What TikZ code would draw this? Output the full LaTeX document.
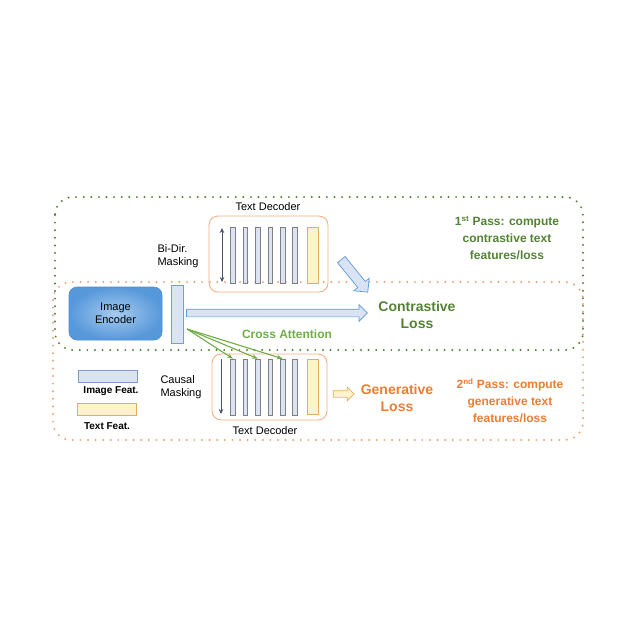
\documentclass[tikz,border=0pt]{standalone}
\usepackage{fontspec}
\setmainfont{Liberation Sans}
\usetikzlibrary{shapes.arrows,arrows.meta}
\definecolor{darkgreen}{HTML}{548235}
\definecolor{lightgreen}{HTML}{70AD47}
\definecolor{passorange}{HTML}{ED7D31}
\definecolor{dotorange}{HTML}{F0A070}
\definecolor{featblue}{HTML}{DAE3F3}
\definecolor{featedge}{HTML}{7F9CC4}
\definecolor{bigarrowedge}{HTML}{5B9BD5}
\definecolor{featyellow}{HTML}{FFF2CC}
\definecolor{yellowedge}{HTML}{E0B060}
\definecolor{decedge}{HTML}{F4B183}
\definecolor{encblue}{HTML}{4A8ED6}
\definecolor{enclight}{HTML}{A6CBEE}
\definecolor{encdark}{HTML}{5798DB}
\definecolor{maskarrow}{HTML}{44546A}

\begin{document}
\begin{tikzpicture}[x=1pt,y=-1pt,
    dots/.style={line width=2.2pt,line cap=round,dash pattern=on 0pt off 7.6pt,rounded corners=18pt},
    decbox/.style={draw=decedge,line width=0.9pt,rounded corners=9pt,minimum width=#1,inner sep=0pt},
    featbar/.style={draw=gray,fill=featblue,line width=0.6pt,minimum width=4.5pt,minimum height=56pt,inner sep=0pt},
    txtbar/.style={draw=yellowedge,fill=featyellow,line width=0.6pt,minimum width=11.5pt,minimum height=#1,inner sep=0pt},
    bigarrow/.style={single arrow,draw=bigarrowedge,fill=featblue,line width=0.7pt,inner sep=3.5pt,single arrow head extend=4.5pt,minimum height=#1},
    lbl/.style={font=\fontsize{11}{12.5}\selectfont,align=left},
    passlbl/.style={font=\fontsize{12}{17}\selectfont\bfseries,align=center},
    losslbl/.style={font=\fontsize{14}{17}\selectfont\bfseries,align=center}]
    \useasboundingbox (0,0) rectangle (640,640);

    % the two passes
    \draw[dots,darkgreen] (55,197) rectangle (583,350);
    \draw[dots,dotorange] (53,282) rectangle (583,440);

    % image encoder and image feature
    \node[draw=encblue,line width=0.6pt,rounded corners=8pt,inner color=enclight,outer color=encdark,
        minimum width=93pt,minimum height=53pt,font=\fontsize{11}{13}\selectfont,align=center] (enc) at (115.5,313.5) {Image\\Encoder};
    \node[draw=featedge,fill=featblue,line width=0.7pt,minimum width=12pt,minimum height=58pt,inner sep=0pt] (imgfeat) at (177,314) {};

    % first pass decoder
    \node[decbox=119pt,minimum height=76pt] (dec1) at (268.5,254) {};
    \node[font=\fontsize{11}{13}\selectfont] (dec1lbl) at (268,207) {Text Decoder};
    \foreach \i in {0,...,5}
        \node[featbar] (t\i) at (233+12.4*\i,255) {};
    \node[txtbar=56pt] (ttxt) at (313,255) {};
    \coordinate (bd1) at (222,228);
    \coordinate (bd2) at (222,282);
    \draw[{Stealth[length=5pt,width=4.5pt]}-{Stealth[length=5pt,width=4.5pt]},maskarrow,line width=0.9pt] (bd1)--(bd2);
    \node[lbl] (bidir) at (178,256) {Bi-Dir.\\Masking};

    % second pass decoder
    \node[decbox=115pt,minimum height=66pt] (dec2) at (269.5,387) {};
    \node[font=\fontsize{11}{13}\selectfont] (dec2lbl) at (265,431) {Text Decoder};
    \foreach \i in {0,...,5}
        \node[featbar] (b\i) at (233+12.4*\i,387) {};
    \node[txtbar=55pt] (btxt) at (313,386.5) {};
    \coordinate (cm1) at (221,359);
    \coordinate (cm2) at (221,414);
    \draw[-{Stealth[length=5pt,width=4.5pt]},maskarrow,line width=0.9pt] (cm1)--(cm2);
    \node[lbl] (causal) at (181,387) {Causal\\Masking};

    % cross attention
    \coordinate (castart) at (187,329);
    \foreach \i in {0,2,4}
        \draw[-{Stealth[length=6pt]},lightgreen,line width=1.1pt] (castart)--(b\i.north);
    \node[font=\fontsize{12}{14}\selectfont\bfseries,text=lightgreen] (crossatt) at (287,334) {Cross Attention};

    % contrastive loss
    \node[bigarrow=181pt] (imgarrow) at (275,313) {};
    \node[bigarrow=42pt,inner sep=4.5pt,single arrow head extend=5pt,rotate=-51] (txtarrow) at (353,274) {};
    \node[losslbl,text=darkgreen] (closs) at (417,315) {Contrastive\\Loss};
    \node[passlbl,text=darkgreen] (pass1) at (507,238) {1\textsuperscript{st} Pass: compute\\contrastive text\\features/loss};

    % generative loss
    \node[single arrow,draw=yellowedge,fill=featyellow,line width=0.7pt,inner sep=3pt,single arrow head extend=3.5pt,minimum height=21pt] (genarrow) at (342,394) {};
    \node[losslbl,text=passorange] (gloss) at (397,398) {Generative\\Loss};
    \node[passlbl,text=passorange] (pass2) at (510,401) {2\textsuperscript{nd} Pass: compute\\generative text\\features/loss};

    % legend
    \node[draw=featedge,fill=featblue,line width=0.7pt,minimum width=59pt,minimum height=12pt,inner sep=0pt] (legimg) at (107.5,376) {};
    \node[font=\fontsize{10}{12}\selectfont\bfseries] (legimglbl) at (111,391) {Image Feat.};
    \node[draw=yellowedge,fill=featyellow,line width=0.7pt,minimum width=59pt,minimum height=12pt,inner sep=0pt] (legtxt) at (107,409) {};
    \node[font=\fontsize{10}{12}\selectfont\bfseries] (legtxtlbl) at (107,426) {Text Feat.};
\end{tikzpicture}
\end{document}
